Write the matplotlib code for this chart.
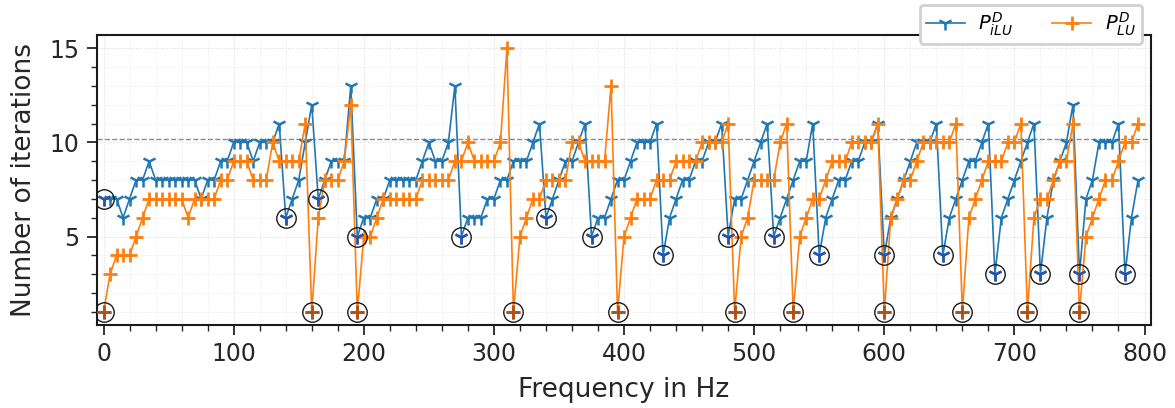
import numpy as np
import matplotlib
matplotlib.use("Agg")
import matplotlib.pyplot as plt
from matplotlib.ticker import MultipleLocator

# ---- data -------------------------------------------------------------
freq_step = 5
freqs = list(range(0, 800, freq_step))

iters_ilu = [7, 7, 7, 6, 7, 8, 8, 9, 8, 8, 8, 8, 8, 8, 8, 7, 8, 8, 9, 9,
             10, 10, 10, 9, 10, 10, 10, 11, 6, 7, 8, 10, 12, 7, 8, 9, 9, 9, 13, 5,
             6, 6, 7, 7, 8, 8, 8, 8, 8, 9, 10, 9, 9, 10, 13, 5, 6, 6, 6, 7,
             7, 8, 8, 9, 9, 9, 10, 11, 6, 7, 8, 9, 9, 10, 11, 5, 6, 6, 7, 8,
             8, 9, 10, 10, 10, 11, 4, 6, 7, 8, 8, 9, 9, 10, 10, 11, 5, 7, 7, 8,
             9, 10, 11, 5, 6, 7, 8, 9, 9, 11, 4, 6, 7, 8, 8, 9, 9, 10, 10, 11,
             4, 6, 7, 8, 9, 10, 10, 10, 11, 4, 6, 7, 8, 9, 9, 10, 11, 3, 6, 7,
             8, 9, 10, 11, 3, 6, 8, 9, 10, 12, 3, 7, 8, 10, 10, 10, 11, 3, 6, 8]

iters_lu = [1, 3, 4, 4, 4, 5, 6, 7, 7, 7, 7, 7, 7, 6, 7, 7, 7, 7, 8, 8,
            9, 9, 9, 8, 8, 8, 10, 9, 9, 9, 9, 11, 1, 6, 8, 8, 8, 9, 12, 1,
            5, 5, 6, 7, 7, 7, 7, 7, 7, 8, 8, 8, 8, 8, 9, 9, 10, 9, 9, 9,
            9, 10, 15, 1, 5, 6, 7, 7, 8, 8, 8, 8, 10, 10, 9, 9, 9, 9, 13, 1,
            5, 6, 7, 7, 7, 8, 8, 8, 9, 9, 9, 9, 10, 10, 10, 10, 11, 1, 5, 6,
            8, 8, 8, 8, 10, 11, 1, 5, 6, 7, 7, 8, 9, 9, 9, 10, 10, 10, 10, 11,
            1, 6, 7, 8, 8, 9, 10, 10, 10, 10, 10, 11, 1, 6, 7, 8, 9, 9, 9, 10,
            10, 11, 1, 6, 7, 7, 8, 9, 9, 11, 1, 5, 6, 7, 8, 8, 9, 10, 10, 11]

# frequencies at which the preconditioner was recomputed (circled points)
recompute_ilu = [0, 140, 165, 195, 275, 340, 375, 430, 480, 515, 550,
                 600, 645, 685, 720, 750, 785]
recompute_lu = [0, 160, 195, 315, 395, 485, 530, 600, 660, 710, 750]

threshold = 10.2

label_ilu = r"$P^{D}_{iLU}$"
label_lu = r"$P^{D}_{LU}$"

# ---- styling ----------------------------------------------------------
c_ilu = "#1f77b4"
c_lu = "#ff7f0e"
c_ilu_dark = "#2a52a8"
c_lu_dark = "#a9521c"
text_c = "0.15"

plt.rcParams["font.family"] = ["DejaVu Sans"]

fig = plt.figure(figsize=(11.75, 4.08), dpi=100)
ax = fig.add_axes([0.0826, 0.2034, 0.8970, 0.7108])

ax.plot(freqs, iters_ilu, color=c_ilu, lw=1.2, marker="1", ms=10, mew=1.8,
        label=label_ilu, zorder=3)
ax.plot(freqs, iters_lu, color=c_lu, lw=1.2, marker="+", ms=10, mew=2.0,
        label=label_lu, zorder=3)

ilu_map = dict(zip(freqs, iters_ilu))
lu_map = dict(zip(freqs, iters_lu))
rx = recompute_ilu
ry = [ilu_map[f] for f in rx]
ax.plot(rx, ry, ls="none", marker="1", ms=10, mew=1.8, color=c_ilu_dark, zorder=4)
ax.plot(rx, ry, ls="none", marker="o", ms=14, mfc="none", mec="0.1", mew=1.0, zorder=5)
lx = recompute_lu
ly = [lu_map[f] for f in lx]
ax.plot(lx, ly, ls="none", marker="+", ms=10, mew=2.0, color=c_lu_dark, zorder=4)
ax.plot(lx, ly, ls="none", marker="o", ms=14, mfc="none", mec="0.1", mew=1.0, zorder=5)

ax.axhline(threshold, color="0.55", ls="--", lw=1.0, zorder=2)

ax.set_xlim(-5, 805)
ax.set_ylim(0.3, 15.7)
ax.xaxis.set_major_locator(MultipleLocator(100))
ax.xaxis.set_minor_locator(MultipleLocator(20))
ax.yaxis.set_major_locator(MultipleLocator(5))
ax.yaxis.set_minor_locator(MultipleLocator(1))

ax.grid(which="major", color="0.85", ls=":", lw=0.7)
ax.grid(which="minor", color="0.9", ls=":", lw=0.6)
ax.set_axisbelow(True)

for s in ax.spines.values():
    s.set_color("0.1")
    s.set_linewidth(1.5)
ax.tick_params(which="major", direction="out", length=7, width=1.3,
               labelsize=17, colors=text_c, pad=5.5)
ax.tick_params(which="minor", direction="out", length=4, width=1.0, colors=text_c)

ax.set_xlabel("Frequency in Hz", fontsize=19, color=text_c, labelpad=8)
ax.set_ylabel("Number of iterations", fontsize=19, color=text_c, labelpad=9)

leg = ax.legend(loc="upper right", bbox_to_anchor=(0.991, 1.105), ncol=2,
                fontsize=14, frameon=True, fancybox=True, framealpha=1.0,
                edgecolor="0.82", handlelength=2.0, columnspacing=2.0,
                handletextpad=0.7, borderpad=0.3, borderaxespad=0.0)
leg.get_frame().set_linewidth(2.0)
leg.set_zorder(10)

fig.savefig("out.png", dpi=100)
